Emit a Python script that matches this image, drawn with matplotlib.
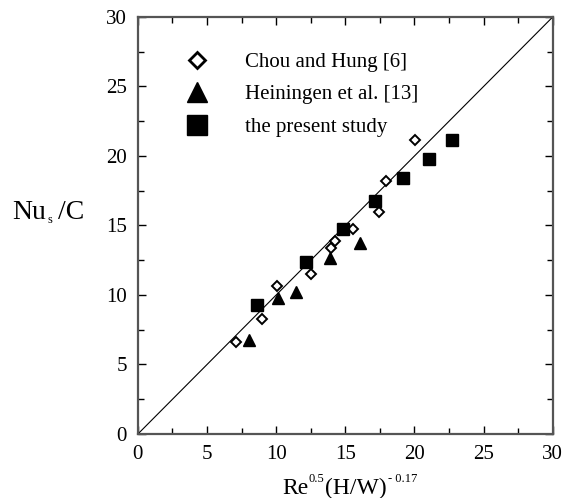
import matplotlib.pyplot as plt
from matplotlib.lines import Line2D
from matplotlib.transforms import IdentityTransform

plt.rcParams['font.family'] = 'Liberation Serif'

# Chou and Hung [6]
chou_x = [7.1, 9.0, 10.05, 12.5, 13.95, 14.25, 15.55, 17.45, 17.95, 20.05]
chou_y = [6.6, 8.3, 10.65, 11.5, 13.4, 13.9, 14.75, 16.0, 18.2, 21.15]

# Heiningen et al. [13]
hein_x = [8.0, 10.1, 11.4, 13.9, 16.05]
hein_y = [6.75, 9.8, 10.25, 12.65, 13.75]

# the present study
pres_x = [8.6, 12.15, 14.8, 17.15, 19.15, 21.05, 22.7]
pres_y = [9.3, 12.4, 14.75, 16.75, 18.4, 19.8, 21.15]

labels = ["Chou and Hung [6]", "Heiningen et al. [13]", "the present study"]


def draw_pieces(fig, x0, y0, pieces):
    """Write text pieces one after another (pixel coords, y from bottom)."""
    r = fig.canvas.get_renderer()
    x = x0
    for txt, size, dy, gap in pieces:
        x += gap
        t = fig.text(x, y0 + dy, txt, fontsize=size, transform=IdentityTransform(),
                     ha='left', va='baseline')
        x += t.get_window_extent(renderer=r).width


fig = plt.figure(figsize=(5.77, 4.98), dpi=100)
ax = fig.add_axes([0.239, 0.1285, 0.719, 0.8375])

ax.plot([0, 30], [0, 30], color='black', lw=0.8)
ax.plot(chou_x, chou_y, 'D', ms=5, mfc='white', mec='black', mew=1.4, ls='none')
ax.plot(hein_x, hein_y, '^', ms=8.8, color='black', ls='none')
ax.plot(pres_x, pres_y, 's', ms=8.8, color='black', ls='none')

ax.set_xlim(0, 30)
ax.set_ylim(0, 30)
ax.set_xticks(range(0, 31, 5))
ax.set_yticks(range(0, 31, 5))
ax.set_xticks([x + 2.5 for x in range(0, 30, 5)], minor=True)
ax.set_yticks([y + 2.5 for y in range(0, 30, 5)], minor=True)
ax.tick_params(which='both', direction='in', top=True, right=True, labelsize=15, width=1)
ax.tick_params(which='major', length=6, pad=8)
ax.tick_params(which='minor', length=4)
for s in ax.spines.values():
    s.set_color('#555555')
    s.set_linewidth(1.6)

# legend with larger markers
handles = [
    Line2D([], [], marker='D', ms=7.8, mfc='white', mec='black', mew=2, ls='none'),
    Line2D([], [], marker='^', ms=15, color='black', ls='none'),
    Line2D([], [], marker='s', ms=14.5, color='black', ls='none'),
]
ax.legend(handles, labels, loc='upper left', bbox_to_anchor=(0.104, 0.915), frameon=False,
          fontsize=15, handlelength=1.5, handletextpad=1.55, labelspacing=0.62,
          borderpad=0, borderaxespad=0)

# axis titles, written piece by piece so the small indices keep their size
fig.canvas.draw()
draw_pieces(fig, 282, 4, [("Re", 17, 0, 0), ("0.5", 9, 12, 0),
                          ("(H/W)", 17, 0, 1), ("- 0.17", 9, 12, 1)])
draw_pieces(fig, 12, 279, [("Nu", 20, 0, 0), ("s", 9, -4, 2), ("/C", 20, 0, 5)])

fig.savefig('out.png', dpi=100)
